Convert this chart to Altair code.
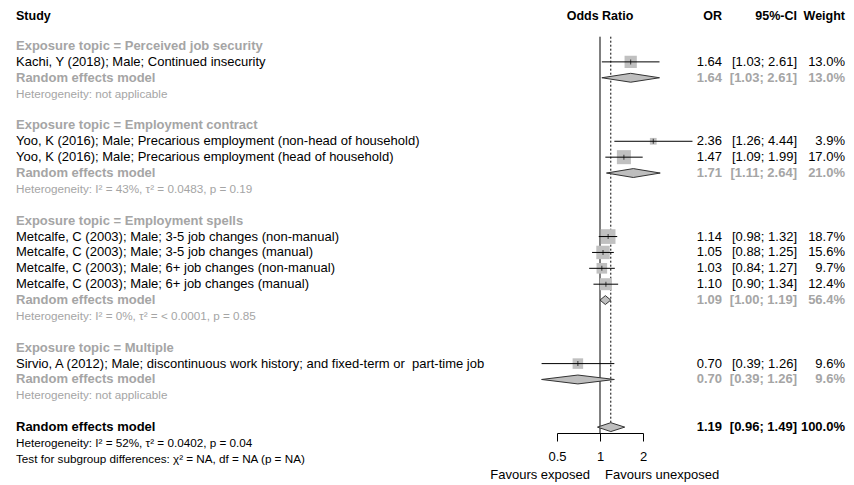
import altair as alt
import pandas as pd

# ---------------- data ----------------
groups = ["Perceived job security", "Employment contract", "Employment spells", "Multiple"]
studies = [
    "Kachi, Y (2018); Male; Continued insecurity",
    "Yoo, K (2016); Male; Precarious employment (non-head of household)",
    "Yoo, K (2016); Male; Precarious employment (head of household)",
    "Metcalfe, C (2003); Male; 3-5 job changes (non-manual)",
    "Metcalfe, C (2003); Male; 3-5 job changes (manual)",
    "Metcalfe, C (2003); Male; 6+ job changes (non-manual)",
    "Metcalfe, C (2003); Male; 6+ job changes (manual)",
    "Sirvio, A (2012); Male; discontinuous work history; and fixed-term or\u00a0 part-time job",
]
study_group = [0, 1, 1, 2, 2, 2, 2, 3]
study_or = [1.64, 2.36, 1.47, 1.14, 1.05, 1.03, 1.10, 0.70]
study_lo = [1.03, 1.26, 1.09, 0.98, 0.88, 0.84, 0.90, 0.39]
study_hi = [2.61, 4.44, 1.99, 1.32, 1.25, 1.27, 1.34, 1.26]
study_w = [13.0, 3.9, 17.0, 18.7, 15.6, 9.7, 12.4, 9.6]

group_or = [1.64, 1.71, 1.09, 0.70]
group_lo = [1.03, 1.11, 1.00, 0.39]
group_hi = [2.61, 2.64, 1.19, 1.26]
group_w = [13.0, 21.0, 56.4, 9.6]
group_het = [
    "Heterogeneity: not applicable",
    "Heterogeneity: I² = 43%, τ² = 0.0483, p = 0.19",
    "Heterogeneity: I² = 0%, τ² = < 0.0001, p = 0.85",
    "Heterogeneity: not applicable",
]

overall_or, overall_lo, overall_hi, overall_w = 1.19, 0.96, 1.49, 100.0
overall_het = "Heterogeneity: I² = 52%, τ² = 0.0402, p = 0.04"
test_text = "Test for subgroup differences: χ² = NA, df = NA (p = NA)"

headers = ["Study", "Odds Ratio", "OR", "95%-CI", "Weight"]
axis_ticks = [0.5, 1, 2]
fav_left = "Favours exposed"
fav_right = "Favours unexposed"

# ---------------- layout ----------------
W, H = 838, 425
ROW0 = 38.0
ROWH = 15.88
N_LAST = 26
FONT = "Liberation Sans"
FS = 13
FS_HEAD = 12.5
FS_SMALL = 11.7
GRAY = "#A5A5A5"
BLACK = "#000000"
X_LEFT, X_OR, X_CI, X_W = 8, 714, 789, 837
DIA_H = 0.28

yscale = alt.Scale(domain=[0, N_LAST], range=[ROW0, ROW0 + ROWH * N_LAST], nice=False, zero=False)
xscale = alt.Scale(type="log", domain=[0.5, 2], range=[549, 635], nice=False)
AX = alt.Axis(values=axis_ticks, format="~g", title=None, grid=False, tickSize=8,
              labelPadding=9, labelFont=FONT, labelFontSize=FS, labelColor=BLACK,
              domainColor=BLACK, tickColor=BLACK, labelFlush=False, labelOverlap=False)
X = lambda f: alt.X(f + ":Q", scale=xscale, axis=AX)
Y = lambda f: alt.Y(f + ":Q", scale=yscale, axis=None)

def fmt_ci(lo, hi):
    return f"[{lo:.2f}; {hi:.2f}]"

# ---------------- build rows ----------------
study_df, group_head, group_re, group_hetrows, diamonds = [], [], [], [], []
r = 0
for g, name in enumerate(groups):
    group_head.append({"r": r, "t": "Exposure topic = " + name}); r += 1
    for i, sg in enumerate(study_group):
        if sg == g:
            study_df.append({"r": r, "t": studies[i], "x": study_or[i], "lo": study_lo[i],
                             "hi": study_hi[i], "w": study_w[i],
                             "ors": f"{study_or[i]:.2f}", "ci": fmt_ci(study_lo[i], study_hi[i]),
                             "ws": f"{study_w[i]:.1f}%"})
            r += 1
    group_re.append({"r": r, "t": "Random effects model", "ors": f"{group_or[g]:.2f}",
                     "ci": fmt_ci(group_lo[g], group_hi[g]), "ws": f"{group_w[g]:.1f}%"})
    for px, yt, yb in [(group_lo[g], r, r), (group_or[g], r - DIA_H, r + DIA_H), (group_hi[g], r, r)]:
        diamonds.append({"id": g, "x": px, "yt": yt, "yb": yb})
    r += 1
    group_hetrows.append({"r": r, "t": group_het[g]}); r += 1
    r += 1
overall_r = r
for px, yt, yb in [(overall_lo, r, r), (overall_or, r - DIA_H, r + DIA_H), (overall_hi, r, r)]:
    diamonds.append({"id": 99, "x": px, "yt": yt, "yb": yb})

study_df = pd.DataFrame(study_df)
group_head = pd.DataFrame(group_head)
group_re = pd.DataFrame(group_re)
group_hetrows = pd.DataFrame(group_hetrows)
diamonds = pd.DataFrame(diamonds)
overall_df = pd.DataFrame([{"r": overall_r, "t": "Random effects model", "ors": f"{overall_or:.2f}",
                            "ci": fmt_ci(overall_lo, overall_hi), "ws": f"{overall_w:.1f}%"}])
overall_small = pd.DataFrame([{"r": overall_r + 1, "t": overall_het}, {"r": overall_r + 2, "t": test_text}])

top_r = (28.7 - ROW0) / ROWH
axis_r = (H - ROW0) / ROWH
ref_df = pd.DataFrame([{"x": 1.0, "r1": top_r, "r2": axis_r}])
dot_df = pd.DataFrame([{"x": overall_or, "r1": top_r, "r2": overall_r - DIA_H}])
head_r = (8 - ROW0) / ROWH
fav_df = pd.DataFrame([{"x": 1.0, "r": N_LAST + 1}])

def txt(df, field, x, align, size=FS, bold=False, color=BLACK, dx=0):
    return alt.Chart(df).mark_text(align=align, baseline="middle", font=FONT, fontSize=size,
                                   fontWeight="bold" if bold else "normal", color=color, dx=dx).encode(
        x=x, y=Y("r"), text=field + ":N")

layers = []
# reference lines
layers.append(alt.Chart(ref_df).mark_rule(color=BLACK, strokeWidth=1).encode(x=X("x"), y=Y("r1"), y2="r2"))
layers.append(alt.Chart(dot_df).mark_rule(color=BLACK, strokeWidth=1, strokeDash=[2, 2]).encode(
    x=X("x"), y=Y("r1"), y2="r2"))
# squares
layers.append(alt.Chart(study_df).mark_square(filled=True, color="#C0C0C0", opacity=1).encode(
    x=X("x"), y=Y("r"),
    size=alt.Size("w:Q", scale=alt.Scale(domain=[0, 20], range=[0, 232]), legend=None)))
# CI lines
layers.append(alt.Chart(study_df).mark_rule(color=BLACK, strokeWidth=1).encode(x=X("lo"), x2="hi", y=Y("r")))
# estimate ticks
layers.append(alt.Chart(study_df).mark_tick(orient="vertical", size=5, thickness=1, color=BLACK).encode(
    x=X("x"), y=Y("r")))
# diamonds
layers.append(alt.Chart(diamonds).mark_area(orient="vertical", fill="#BEBEBE", stroke="#333333",
                                            strokeWidth=1, opacity=1, fillOpacity=1).encode(
    x=X("x"), y=Y("yt"), y2="yb", detail="id:N"))

# headers
hdr = pd.DataFrame([{"r": head_r, "x": 1.0}])
layers.append(alt.Chart(hdr).mark_text(align="left", baseline="middle", font=FONT, fontSize=FS_HEAD,
                                       fontWeight="bold", color=BLACK, text=headers[0]).encode(
    x=alt.value(X_LEFT), y=Y("r")))
layers.append(alt.Chart(hdr).mark_text(align="center", baseline="middle", font=FONT, fontSize=FS_HEAD,
                                       fontWeight="bold", color=BLACK, text=headers[1]).encode(
    x=X("x"), y=Y("r")))
for h, xp in zip(headers[2:], [X_OR, X_CI, X_W]):
    layers.append(alt.Chart(hdr).mark_text(align="right", baseline="middle", font=FONT, fontSize=FS_HEAD,
                                           fontWeight="bold", color=BLACK, text=h).encode(
        x=alt.value(xp), y=Y("r")))

# study texts
layers.append(txt(study_df, "t", alt.value(X_LEFT), "left"))
layers.append(txt(study_df, "ors", alt.value(X_OR), "right"))
layers.append(txt(study_df, "ci", alt.value(X_CI), "right"))
layers.append(txt(study_df, "ws", alt.value(X_W), "right"))
# group texts
layers.append(txt(group_head, "t", alt.value(X_LEFT), "left", bold=True, color=GRAY))
layers.append(txt(group_re, "t", alt.value(X_LEFT), "left", bold=True, color=GRAY))
layers.append(txt(group_re, "ors", alt.value(X_OR), "right", bold=True, color=GRAY))
layers.append(txt(group_re, "ci", alt.value(X_CI), "right", bold=True, color=GRAY))
layers.append(txt(group_re, "ws", alt.value(X_W), "right", bold=True, color=GRAY))
layers.append(txt(group_hetrows, "t", alt.value(X_LEFT), "left", size=FS_SMALL, color=GRAY))
# overall texts
layers.append(txt(overall_df, "t", alt.value(X_LEFT), "left", bold=True))
layers.append(txt(overall_df, "ors", alt.value(X_OR), "right", bold=True))
layers.append(txt(overall_df, "ci", alt.value(X_CI), "right", bold=True))
layers.append(txt(overall_df, "ws", alt.value(X_W), "right", bold=True))
layers.append(txt(overall_small, "t", alt.value(X_LEFT), "left", size=FS_SMALL))
# favours labels
layers.append(alt.Chart(fav_df).mark_text(align="right", baseline="middle", font=FONT, fontSize=FS,
                                          color=BLACK, dx=-10, text=fav_left).encode(x=X("x"), y=Y("r")))
layers.append(alt.Chart(fav_df).mark_text(align="left", baseline="middle", font=FONT, fontSize=FS,
                                          color=BLACK, dx=5, text=fav_right).encode(x=X("x"), y=Y("r")))

chart = alt.layer(*layers).properties(
    width=W, height=H,
    autosize=alt.AutoSizeParams(type="none"),
    padding={"left": 0, "top": 0, "right": 0, "bottom": 51},
    background="white",
).configure_view(stroke=None)

chart.save("out.html", embed_options={"renderer": "svg", "actions": False})
